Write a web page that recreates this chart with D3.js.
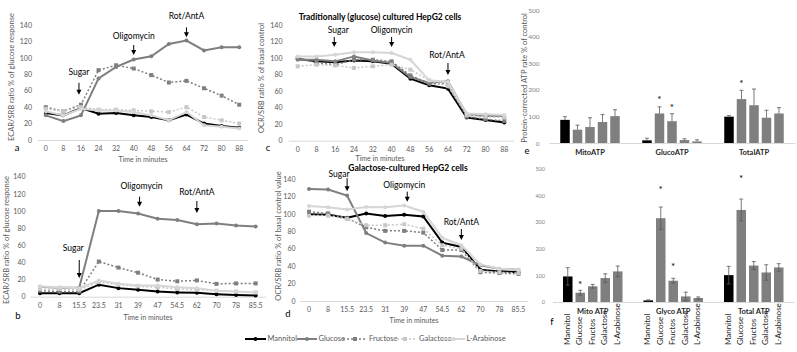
<!DOCTYPE html>
<html><head><meta charset="utf-8">
<script src="https://cdn.jsdelivr.net/npm/d3@7"></script>
<style>body{margin:0;background:#fff}svg{display:block}text{font-family:Lato,"Open Sans",sans-serif}</style>
</head><body><svg id="chart" width="797" height="352"></svg>
<script>
// ---------- DATA ----------
const seriesNames = ["Mannitol","Glucose","Fructose","Galactose","L-Arabinose"];
const timesAC = ["0","8","16","24","32","40","48","56","64","72","80","88"];
const timesBD = ["0","8","15.5","23.5","31","39","47","54.5","62","70","78","85.5"];
const lineYTicks = [0,20,40,60,80,100,120,140];
const barYTicks = [0,100,200,300,400,500];

// panel a: ECAR, glucose-cultured
const aMannitol  = [33,30,39,32,33,30,28,24,31,20,17,15];
const aGlucose   = [30,23,30,75,89,98,102,117,121,109,113,113];
const aFructose  = [40,35,43,85,91,87,79,70,72,63,54,43];
const aGalactose = [38,35,40,37,37,36,35,34,40,28,24,20];
const aArabinose = [35,30,38,36,36,34,30,24,34,18,16,14];

// panel b: ECAR, galactose-cultured
const bMannitol  = [4,4,4,14,10,8,6,5,4.5,3,2,1.5];
const bGlucose   = [11.5,10.5,10.5,100,100,97,91,89.5,84.5,85.5,83,82];
const bFructose  = [7,6,6,41,34,28,20,18,19,15,15.5,15.5];
const bGalactose = [9,9,8,17,14,12,11,9,8,7,6,5];
const bArabinose = [12,11,10,19,15,13,13,11,10,7,6,5];

// panel c: OCR, glucose-cultured
const cMannitol  = [99,96,95,97,96,93,75,67,63,28,25,22];
const cGlucose   = [98,98,96,102,97,94,77,70,72,32,30,30];
const cFructose  = [100,94,92,98,98,96,79,69,69,29,26,24];
const cGalactose = [90,92,91,88,90,92,86,73,66,31,29,28];
const cArabinose = [102,102,104,107,107,106,98,73,71,33,32,31];

// panel d: OCR, galactose-cultured
const dMannitol  = [99.5,99,95.5,100.5,97.5,99,97,67,62,36,34,33];
const dGlucose   = [128.5,128,121,78,67,63.5,63.5,52,51,41,37,36];
const dFructose  = [102.5,100.5,95,84.5,80.5,80.5,78.5,58.5,58.5,33,32,31];
const dGalactose = [98,98,94,87,87,88,83,64,60,34.5,33,32];
const dArabinose = [109,107.5,105,108,107.5,109.5,102.5,72.5,64,42,37,36];

// panel e: ATP rates, glucose-cultured
const eGroups = ["MitoATP","GlucoATP","TotalATP"];
const eMito     = [87,50,60,79,101];   const eMitoErr  = [12,17,35,28,24];
const eGluco    = [10,111,82,11,6];    const eGlucoErr = [8,25,28,5,6];
const eTotal    = [99,165,142,95,111]; const eTotalErr = [4,33,61,28,22];
const eStars    = [[],[ ["Glucose",170],["Fructose",140] ],[ ["Glucose",231] ]];

// panel f: ATP rates, galactose-cultured
const fGroups = ["Mito ATP","Glyco ATP","Total ATP"];
const fBarLabels = ["Mannitol","Glucose","Fructos","Galactose","L-Arabinose"];
const fMito     = [96,35,59,90,115];   const fMitoErr  = [33,9,7,16,20];
const fGlyco    = [6,315,80,21,15];    const fGlycoErr = [2,42,9,16,4];
const fTotal    = [101,346,137,111,130]; const fTotalErr = [33,41,15,29,14];
const fStars    = [[ ["Glucose",72] ],[ ["Glucose",429],["Fructose",140] ],[ ["Glucose",469] ]];

// ---------- STYLE ----------
const styles = [
  {color:"#000000", w:2,   dash:null,  mark:"circle", mfill:"#000000"},
  {color:"#7f7f7f", w:2,   dash:null,  mark:"circle", mfill:"#7f7f7f"},
  {color:"#7f7f7f", w:1.5, dash:"2,2", mark:"square", mfill:"#7f7f7f"},
  {color:"#c8c8c8", w:1.5, dash:"2,2", mark:"square", mfill:"#c8c8c8"},
  {color:"#d6d6d6", w:2,   dash:null,  mark:"circle", mfill:"#d6d6d6"}
];
const TXT = "#595959";
const svg = d3.select("#chart");

function marker(g, st, x, y){
  if(st.mark==="square"){
    g.append("rect").attr("x",x-2).attr("y",y-2).attr("width",4).attr("height",4).attr("fill",st.mfill);
  } else {
    g.append("circle").attr("cx",x).attr("cy",y).attr("r",2).attr("fill",st.mfill);
  }
}

function linePanel(p){
  const g = svg.append("g");
  const x = d3.scaleBand().domain(p.times).range([p.x0,p.x1]);
  const y = d3.scaleLinear().domain([0,140]).range([p.yBase,p.yTop]);
  const cx = t => x(t)+x.bandwidth()/2;
  const ya = g.append("g").attr("transform",`translate(${p.tickX},0)`)
    .call(d3.axisLeft(y).tickValues(lineYTicks).tickSize(0).tickPadding(0));
  ya.select(".domain").remove();
  ya.selectAll("text").attr("fill",TXT).style("font-size","7px");
  const xa = g.append("g").attr("transform",`translate(0,${p.yBase})`)
    .call(d3.axisBottom(x).tickSize(0).tickPadding(6.3));
  xa.select(".domain").attr("stroke","#d9d9d9");
  xa.selectAll("text").attr("fill",TXT).style("font-size","7px");
  p.data.forEach((vals,i)=>{
    const st = styles[i];
    const line = d3.line().x((d,j)=>cx(p.times[j])).y(d=>y(d));
    g.append("path").datum(vals).attr("d",line).attr("fill","none")
      .attr("stroke",st.color).attr("stroke-width",st.w)
      .attr("stroke-dasharray",st.dash);
    vals.forEach((v,j)=>marker(g,st,cx(p.times[j]),y(v)));
  });
  p.arrows.forEach(a=>{
    const ax = cx(p.times[a.at])+(a.dx||0);
    const ty = y(a.tip);
    const top = ty-a.len;
    g.append("line").attr("x1",ax).attr("x2",ax).attr("y1",top).attr("y2",ty-4)
      .attr("stroke","#000").attr("stroke-width",1);
    g.append("path").attr("d",`M${ax-2.5},${ty-5}L${ax+2.5},${ty-5}L${ax},${ty}Z`).attr("fill","#000");
    g.append("text").attr("x",ax+(a.ldx||0)).attr("y",top-a.gap).attr("text-anchor","middle")
      .style("font-size","8.5px").attr("fill","#000").text(a.label);
  });
  g.append("text").attr("x",p.xt[0]).attr("y",p.xt[1]).attr("text-anchor","middle")
    .style("font-size","7px").attr("fill",TXT).text("Time in minutes");
  g.append("text").attr("transform",`translate(${p.yt[0]},${p.yt[1]}) rotate(-90)`)
    .attr("text-anchor","middle").attr("dominant-baseline","middle")
    .style("font-size","7.5px").attr("fill",TXT).text(p.ytitle);
  g.append("text").attr("x",p.letter[0]).attr("y",p.letter[1]).attr("text-anchor","middle")
    .attr("dominant-baseline","middle").style("font-size","9.5px").attr("fill","#000").text(p.id);
}

linePanel({id:"a",times:timesAC,data:[aMannitol,aGlucose,aFructose,aGalactose,aArabinose],
  x0:37,x1:248,yBase:140,yTop:25,tickX:32,xt:[143,161.5],yt:[12,77],letter:[17,149],
  ytitle:"ECAR/SRB ratio % of glucose response",
  arrows:[{label:"Sugar",at:2,tip:55,len:12,gap:8,dx:-2},{label:"Oligomycin",at:5,tip:103.5,len:10,gap:6},{label:"Rot/AntA",at:8,tip:125,len:10,gap:8}]});
linePanel({id:"b",times:timesBD,data:[bMannitol,bGlucose,bFructose,bGalactose,bArabinose],
  x0:30.2,x1:265.5,yBase:296.7,yTop:176.7,tickX:25.5,xt:[148,320],yt:[7,240],letter:[18,317],
  ytitle:"ECAR/SRB ratio % of glucose response",
  arrows:[{label:"Sugar",at:2,tip:21.8,len:18,gap:9,ldx:-6},{label:"Oligomycin",at:5,tip:105,len:10,gap:8,dx:1.5,ldx:2},{label:"Rot/AntA",at:8,tip:97.7,len:12,gap:6}]});
linePanel({id:"c",times:timesAC,data:[cMannitol,cGlucose,cFructose,cGalactose,cArabinose],
  x0:288.3,x1:513.7,yBase:140.7,yTop:25,tickX:282.5,xt:[380,161],yt:[262,78],letter:[268,149],
  ytitle:"OCR/SRB ratio % of basal control",
  arrows:[{label:"Sugar",at:2,tip:113.4,len:10,gap:4,dx:-1,ldx:4},{label:"Oligomycin",at:5,tip:113.4,len:10,gap:4},{label:"Rot/AntA",at:8,tip:79.5,len:12,gap:5,ldx:-1}]});
linePanel({id:"d",times:timesBD,data:[dMannitol,dGlucose,dFructose,dGalactose,dArabinose],
  x0:299.5,x1:528,yBase:301,yTop:179,tickX:295.5,xt:[414,323],yt:[279,236],letter:[288,315],
  ytitle:"OCR/SRB ratio % of basal control value",
  arrows:[{label:"Sugar",at:2,tip:126,len:13,gap:1,ldx:-8},{label:"Oligomycin",at:5,tip:114,len:10,gap:4,dx:3,ldx:-3},{label:"Rot/AntA",at:8,tip:70,len:11,gap:4}]});

// titles
svg.append("text").attr("x",380).attr("y",20).attr("text-anchor","middle")
  .style("font-size","8.5px").style("font-weight","bold").attr("fill","#000")
  .text("Traditionally (glucose) cultured HepG2 cells");
svg.append("text").attr("x",408).attr("y",171).attr("text-anchor","middle")
  .style("font-size","8.5px").style("font-weight","bold").attr("fill","#000")
  .text("Galactose-cultured HepG2 cells");

// ---------- BAR PANELS ----------
function barPanel(p){
  const g = svg.append("g");
  const x0 = d3.scaleBand().domain(p.groups).range([p.x0,p.x1]);
  const x1 = d3.scaleBand().domain(seriesNames).range([-29.75,29.75]).paddingInner(0.24);
  const y = d3.scaleLinear().domain([0,500]).range([p.yBase,p.yTop]);
  const ya = g.append("g").attr("transform",`translate(${p.tickX},0)`)
    .call(d3.axisLeft(y).tickValues(barYTicks).tickSize(0).tickPadding(0));
  ya.select(".domain").remove();
  ya.selectAll("text").attr("fill","#7f7f7f").style("font-size",p.tickFont);
  const xa = g.append("g").attr("transform",`translate(0,${p.yBase})`)
    .call(d3.axisBottom(x0).tickSize(0).tickPadding(6.3));
  xa.select(".domain").attr("stroke","#d9d9d9");
  xa.selectAll("text").attr("fill","#262626").style("font-size","7.5px").style("font-weight","bold");
  p.groups.forEach((grp,gi)=>{
    const gc = x0(grp)+x0.bandwidth()/2;
    const vals = p.values[gi], errs = p.errors[gi];
    vals.forEach((v,si)=>{
      const bx = gc + x1(seriesNames[si]);
      const bw = x1.bandwidth();
      g.append("rect").attr("x",bx).attr("y",y(v)).attr("width",bw).attr("height",p.yBase-y(v))
        .attr("fill",si===0?"#000":"#7f7f7f");
      const mx = bx+bw/2;
      const lo = p.sym ? v-errs[si] : v;
      g.append("line").attr("x1",mx).attr("x2",mx).attr("y1",y(v+errs[si])).attr("y2",y(Math.max(0,lo)))
        .attr("stroke","#595959").attr("stroke-width",0.8);
      g.append("line").attr("x1",mx-2).attr("x2",mx+2).attr("y1",y(v+errs[si])).attr("y2",y(v+errs[si]))
        .attr("stroke","#595959").attr("stroke-width",0.8);
      if(p.sym){
        g.append("line").attr("x1",mx-2).attr("x2",mx+2).attr("y1",y(Math.max(0,lo))).attr("y2",y(Math.max(0,lo)))
          .attr("stroke","#595959").attr("stroke-width",0.8);
      }
      if(p.barLabels){
        g.append("text").attr("transform",`translate(${mx},${p.labelBase}) rotate(-90)`)
          .attr("dominant-baseline","middle").style("font-size","8px").attr("fill","#262626")
          .text(p.barLabels[si]);
      }
    });
    p.stars[gi].forEach(([name,lvl])=>{
      const sx = gc + x1(name) + x1.bandwidth()/2;
      g.append("text").attr("x",sx).attr("y",y(lvl)+5).attr("text-anchor","middle")
        .style("font-size","10px").attr("fill","#000").text("*");
    });
  });
  if(p.ytitle){
    g.append("text").attr("transform",`translate(${p.yt[0]},${p.yt[1]}) rotate(-90)`)
      .attr("text-anchor","middle").attr("dominant-baseline","middle")
      .style("font-size","7.5px").attr("fill",TXT).text(p.ytitle);
  }
  g.append("text").attr("x",p.letter[0]).attr("y",p.letter[1]).attr("text-anchor","middle")
    .attr("dominant-baseline","middle").style("font-size","9.5px").attr("fill","#000").text(p.id);
}

barPanel({id:"e",groups:eGroups,values:[eMito,eGluco,eTotal],errors:[eMitoErr,eGlucoErr,eTotalErr],
  stars:eStars,x0:549,x1:795,yBase:143,yTop:10,tickX:539.5,tickFont:"6.5px",sym:false,
  ytitle:"Protein-corrected ATP rate % of control",yt:[525,78],letter:[527,152]});
barPanel({id:"f",groups:fGroups,values:[fMito,fGlyco,fTotal],errors:[fMitoErr,fGlycoErr,fTotalErr],
  stars:fStars,x0:552.5,x1:794,yBase:302,yTop:169,tickX:545,tickFont:"5.5px",sym:true,
  barLabels:fBarLabels,labelBase:345,letter:[552,323]});

// ---------- LEGEND ----------
const legendX = [[245,266,267.5],[297,317,318.5],[343,367,369],[393,417,419],[442,465,466.5]];
const lg = svg.append("g");
seriesNames.forEach((n,i)=>{
  const st = styles[i], [a,b,t] = legendX[i];
  lg.append("line").attr("x1",a).attr("x2",b).attr("y1",339).attr("y2",339)
    .attr("stroke",st.color).attr("stroke-width",st.w).attr("stroke-dasharray",st.dash);
  marker(lg,st,(a+b)/2,339);
  lg.append("text").attr("x",t).attr("y",339).attr("dominant-baseline","middle")
    .style("font-size","7.5px").attr("fill",TXT).text(n);
});
</script>
</body></html>
